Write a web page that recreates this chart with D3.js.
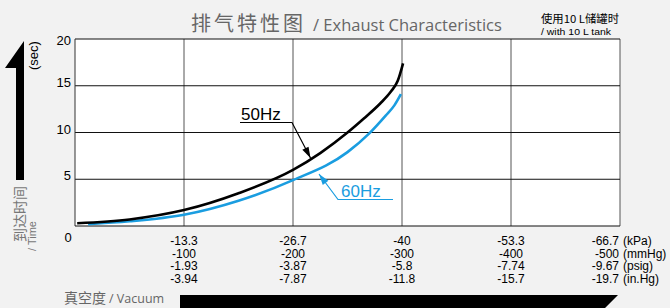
<!DOCTYPE html>
<html>
<head>
<meta charset="utf-8">
<script src="https://cdn.jsdelivr.net/npm/d3@7"></script>
<style>
  html, body { margin: 0; padding: 0; background: #f2f2f2; overflow: hidden; }
  svg { display: block; }
</style>
</head>
<body>
<script>
// exhaust curves, vacuum in mmHg, time in sec
var vac50 = [-2, -50, -100, -150, -200, -225, -250, -265, -280, -290, -296, -301];
var time50 = [0.3, 0.7, 1.7, 3.5, 6.0, 7.8, 10.0, 11.5, 13.1, 14.4, 15.5, 17.4];
var vac60 = [-12, -50, -100, -150, -200, -250, -270, -285, -293, -299];
var time60 = [0.2, 0.5, 1.2, 2.7, 4.9, 7.9, 9.9, 11.8, 12.9, 14.1];

var xTicks = [-100, -200, -300, -400, -500];
var kPaLabels = ['-13.3', '-26.7', '-40', '-53.3', '-66.7'];
var mmHgLabels = ['-100', '-200', '-300', '-400', '-500'];
var psigLabels = ['-1.93', '-3.87', '-5.8', '-7.74', '-9.67'];
var inHgLabels = ['-3.94', '-7.87', '-11.8', '-15.7', '-19.7'];
var units = ['(kPa)', '(mmHg)', '(psig)', '(in.Hg)'];
var yTicks = [5, 10, 15, 20];

var width = 670, height = 308;
var blue = '#1a9de0';
var cjk = '"Noto Sans CJK SC", sans-serif';
var sans = '"Liberation Sans", Arial, sans-serif';

var svg = d3.select('body').append('svg')
            .attr('width', width)
            .attr('height', height);

var x = d3.scaleLinear().domain([0, -500]).range([75, 620]);
var y = d3.scaleLinear().domain([0, 20]).range([226, 39]);

// plot area
svg.append('rect')
   .attr('x', x(0)).attr('y', y(20))
   .attr('width', x(-500) - x(0)).attr('height', y(0) - y(20))
   .attr('fill', '#fff');

svg.selectAll('.vgrid').data(xTicks)
   .enter().append('line')
   .attr('x1', function(d) { return x(d); })
   .attr('x2', function(d) { return x(d); })
   .attr('y1', y(0)).attr('y2', y(20))
   .attr('stroke', '#555').attr('stroke-width', 1);

svg.selectAll('.hgrid').data(yTicks)
   .enter().append('line')
   .attr('x1', x(0)).attr('x2', x(-500))
   .attr('y1', function(d) { return y(d); })
   .attr('y2', function(d) { return y(d); })
   .attr('stroke', '#111').attr('stroke-width', 1);

svg.append('line')
   .attr('x1', x(0)).attr('x2', x(0)).attr('y1', y(0)).attr('y2', y(20))
   .attr('stroke', '#333');
svg.append('line')
   .attr('x1', x(0)).attr('x2', x(-500)).attr('y1', y(0)).attr('y2', y(0))
   .attr('stroke', '#111').attr('stroke-width', 1.2);

// y tick labels
svg.selectAll('.ylab').data(yTicks)
   .enter().append('text')
   .attr('x', 71)
   .attr('y', function(d) { return d == 20 ? y(d) + 6 : y(d) + 1; })
   .attr('text-anchor', 'end')
   .style('font-family', sans).style('font-size', '13px')
   .text(function(d) { return d; });
svg.append('text').attr('x', 68).attr('y', 242)
   .attr('text-anchor', 'middle')
   .style('font-family', sans).style('font-size', '13px')
   .text('0');

// x tick labels, four rows
var rows = [kPaLabels, mmHgLabels, psigLabels, inHgLabels];
var rowY = [245, 257.5, 270, 282.5];
rows.forEach(function(labels, r) {
  svg.selectAll('.row' + r).data(xTicks)
     .enter().append('text')
     .attr('x', function(d, i) { return i == 4 ? x(d) - 1 : x(d); })
     .attr('y', rowY[r])
     .attr('text-anchor', function(d, i) { return i == 4 ? 'end' : 'middle'; })
     .style('font-family', sans).style('font-size', '12px')
     .text(function(d, i) { return labels[i]; });
  svg.append('text')
     .attr('x', x(-500) + 3).attr('y', rowY[r])
     .style('font-family', sans).style('font-size', '12px')
     .text(units[r]);
});

// curves
var line = d3.line()
             .x(function(d) { return x(d[0]); })
             .y(function(d) { return y(d[1]); })
             .curve(d3.curveMonotoneX);

svg.append('path')
   .datum(d3.zip(vac60, time60))
   .attr('d', line)
   .attr('fill', 'none').attr('stroke', blue).attr('stroke-width', 2.6);
svg.append('path')
   .datum(d3.zip(vac50, time50))
   .attr('d', line)
   .attr('fill', 'none').attr('stroke', '#000').attr('stroke-width', 2.6);

// leader labels: text, underline, then a line with an arrow to the curve
function leader(tx, ty, ux0, ux1, uy, ax, ay, color, label) {
  svg.append('text').attr('x', tx).attr('y', ty)
     .attr('fill', color)
     .style('font-family', sans).style('font-size', '17px')
     .text(label);
  svg.append('polyline')
     .attr('points', [[ux0, uy], [ux1, uy], [ax, ay]].join(' '))
     .attr('fill', 'none').attr('stroke', color).attr('stroke-width', 1.2);
  var ang = Math.atan2(ay - uy, ax - ux1);
  var len = 11, half = 3.5;
  var bx = ax - len * Math.cos(ang), by = ay - len * Math.sin(ang);
  var px = -Math.sin(ang) * half, py = Math.cos(ang) * half;
  svg.append('polygon')
     .attr('points', [[ax, ay], [bx + px, by + py], [bx - px, by - py]].join(' '))
     .attr('fill', color);
}
leader(241, 120, 240, 292, 122.5, 310.5, 158, '#000', '50Hz');
leader(341, 197, 393, 338, 199.5, 319, 174, blue, '60Hz');

// title
svg.append('text').attr('x', 191).attr('y', 31)
   .attr('fill', '#666')
   .style('font-family', cjk).style('font-size', '20px')
   .style('letter-spacing', '3px')
   .text('排气特性图');
svg.append('text').attr('x', 313).attr('y', 31)
   .attr('fill', '#666')
   .style('font-family', '"Open Sans", sans-serif').style('font-size', '16.5px')
   .text('/ Exhaust Characteristics');

svg.append('text').attr('x', 541).attr('y', 23)
   .style('font-family', cjk).style('font-size', '11px')
   .attr('textLength', 78).attr('lengthAdjust', 'spacingAndGlyphs')
   .text('使用10 L储罐时');
svg.append('text').attr('x', 541).attr('y', 35)
   .style('font-family', sans).style('font-size', '9px')
   .attr('textLength', 70).attr('lengthAdjust', 'spacingAndGlyphs')
   .text('/ with 10 L tank');

// y axis arrow and labels
svg.append('polygon')
   .attr('points', '24,41 24,180 16,180 16,68 5,68')
   .attr('fill', '#000');
svg.append('text')
   .attr('transform', 'translate(25,242) rotate(-90)')
   .attr('fill', '#777')
   .style('font-family', cjk).style('font-size', '14px')
   .text('到达时间');
svg.append('text')
   .attr('transform', 'translate(36,251) rotate(-90)')
   .attr('fill', '#777')
   .style('font-family', sans).style('font-size', '11px')
   .text('/ Time');
svg.append('text')
   .attr('transform', 'translate(38,70) rotate(-90)')
   .style('font-family', sans).style('font-size', '13px')
   .text('(sec)');

// x axis arrow and label
svg.append('path')
   .attr('d', 'M180,295 L618,295 L594,319 L594,308 L180,308 Z')
   .attr('fill', '#000');
svg.append('text').attr('x', 64).attr('y', 303)
   .attr('fill', '#666')
   .style('font-family', cjk).style('font-size', '14px')
   .text('真空度');
svg.append('text').attr('x', 109).attr('y', 303)
   .attr('fill', '#666')
   .style('font-family', '"Open Sans", sans-serif').style('font-size', '12.5px')
   .text('/ Vacuum');
</script>
</body>
</html>
